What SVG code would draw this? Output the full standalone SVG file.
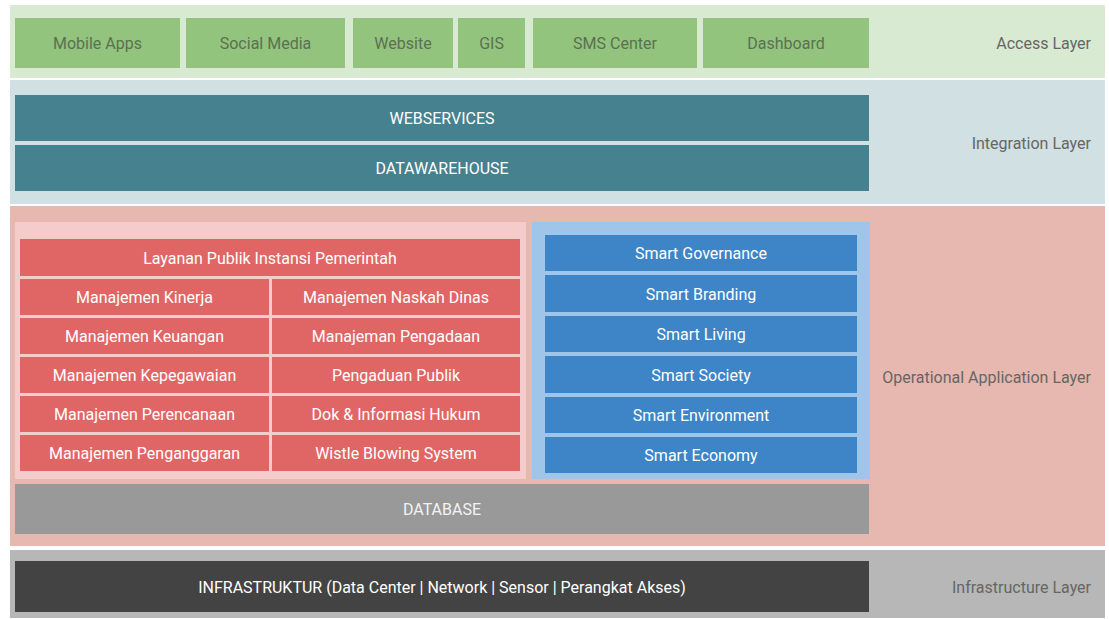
<svg xmlns="http://www.w3.org/2000/svg" width="1109" height="619" viewBox="0 0 1109 619">
<style>
text{font-family:Roboto,"Liberation Sans",sans-serif;font-size:16px;text-anchor:middle}
.lbl{text-anchor:end;fill:#666}
.g{fill:#93c47d}.gt{fill:#5b7052}
.teal{fill:#45818e}
.red{fill:#e06666}
.blue{fill:#3d85c6}
.w{fill:#ffffff}
</style>
<rect width="1109" height="619" fill="#ffffff"/>
<g id="access-layer">
<rect x="10" y="5" width="1095" height="73" fill="#d9ead3"/>
<text class="lbl" x="1091" y="49" fill="#666">Access Layer</text>
</g>
<g id="mobile-apps"><rect class="g" x="15" y="18" width="165" height="50"/><text class="gt" x="97.5" y="49">Mobile Apps</text></g>
<g id="social-media"><rect class="g" x="186" y="18" width="159" height="50"/><text class="gt" x="265.5" y="49">Social Media</text></g>
<g id="website"><rect class="g" x="353" y="18" width="100" height="50"/><text class="gt" x="403" y="49">Website</text></g>
<g id="gis"><rect class="g" x="458" y="18" width="67" height="50"/><text class="gt" x="491.5" y="49">GIS</text></g>
<g id="sms-center"><rect class="g" x="533" y="18" width="164" height="50"/><text class="gt" x="615" y="49">SMS Center</text></g>
<g id="dashboard"><rect class="g" x="703" y="18" width="166" height="50"/><text class="gt" x="786" y="49">Dashboard</text></g>

<g id="integration-layer">
<rect x="10" y="80" width="1095" height="124" fill="#d0e0e3"/>
<text class="lbl" x="1091" y="149">Integration Layer</text>
</g>
<g id="webservices"><rect class="teal" x="15" y="95" width="854" height="46"/><text class="w" x="442" y="124">WEBSERVICES</text></g>
<g id="datawarehouse"><rect class="teal" x="15" y="145" width="854" height="46"/><text class="w" x="442" y="174">DATAWAREHOUSE</text></g>

<g id="operational-layer">
<rect x="10" y="206" width="1095" height="340" fill="#e6b8af"/>
<text class="lbl" x="1091" y="383" fill="#6b5e5b">Operational Application Layer</text>
<rect x="15" y="222" width="511" height="257" fill="#f4cccc"/>
<rect x="532" y="222" width="338" height="257" fill="#9fc5e8"/>
</g>
<g id="layanan-publik"><rect class="red" x="20" y="239" width="500" height="37"/><text class="w" x="270" y="263.5">Layanan Publik Instansi Pemerintah</text></g>
<g id="manajemen-kinerja"><rect class="red" x="20" y="279" width="249" height="36"/><text class="w" x="144.5" y="303">Manajemen Kinerja</text></g>
<g id="manajemen-naskah-dinas"><rect class="red" x="272" y="279" width="248" height="36"/><text class="w" x="396" y="303">Manajemen Naskah Dinas</text></g>
<g id="manajemen-keuangan"><rect class="red" x="20" y="318" width="249" height="36"/><text class="w" x="144.5" y="342">Manajemen Keuangan</text></g>
<g id="manajeman-pengadaan"><rect class="red" x="272" y="318" width="248" height="36"/><text class="w" x="396" y="342">Manajeman Pengadaan</text></g>
<g id="manajemen-kepegawaian"><rect class="red" x="20" y="357" width="249" height="36"/><text class="w" x="144.5" y="381">Manajemen Kepegawaian</text></g>
<g id="pengaduan-publik"><rect class="red" x="272" y="357" width="248" height="36"/><text class="w" x="396" y="381">Pengaduan Publik</text></g>
<g id="manajemen-perencanaan"><rect class="red" x="20" y="396" width="249" height="36"/><text class="w" x="144.5" y="420">Manajemen Perencanaan</text></g>
<g id="dok-informasi-hukum"><rect class="red" x="272" y="396" width="248" height="36"/><text class="w" x="396" y="420">Dok &amp; Informasi Hukum</text></g>
<g id="manajemen-penganggaran"><rect class="red" x="20" y="435" width="249" height="36"/><text class="w" x="144.5" y="459">Manajemen Penganggaran</text></g>
<g id="wistle-blowing-system"><rect class="red" x="272" y="435" width="248" height="36"/><text class="w" x="396" y="459">Wistle Blowing System</text></g>

<g id="smart-governance"><rect class="blue" x="545" y="235" width="312" height="36"/><text class="w" x="701" y="259">Smart Governance</text></g>
<g id="smart-branding"><rect class="blue" x="545" y="275" width="312" height="37"/><text class="w" x="701" y="299.5">Smart Branding</text></g>
<g id="smart-living"><rect class="blue" x="545" y="316" width="312" height="36"/><text class="w" x="701" y="340">Smart Living</text></g>
<g id="smart-society"><rect class="blue" x="545" y="356" width="312" height="37"/><text class="w" x="701" y="380.5">Smart Society</text></g>
<g id="smart-environment"><rect class="blue" x="545" y="397" width="312" height="36"/><text class="w" x="701" y="421">Smart Environment</text></g>
<g id="smart-economy"><rect class="blue" x="545" y="437" width="312" height="36"/><text class="w" x="701" y="461">Smart Economy</text></g>

<g id="database"><rect x="15" y="484" width="854" height="50" fill="#999999"/><text x="442" y="515" fill="#f3f3f3">DATABASE</text></g>

<g id="infrastructure-layer">
<rect x="10" y="550" width="1095" height="68" fill="#b7b7b7"/>
<text class="lbl" x="1091" y="593" fill="#777">Infrastructure Layer</text>
</g>
<g id="infrastruktur"><rect x="15" y="561" width="854" height="51" fill="#434343"/><text class="w" x="442" y="592.5">INFRASTRUKTUR (Data Center | Network | Sensor | Perangkat Akses)</text></g>
<g id="connectors"></g>
</svg>
